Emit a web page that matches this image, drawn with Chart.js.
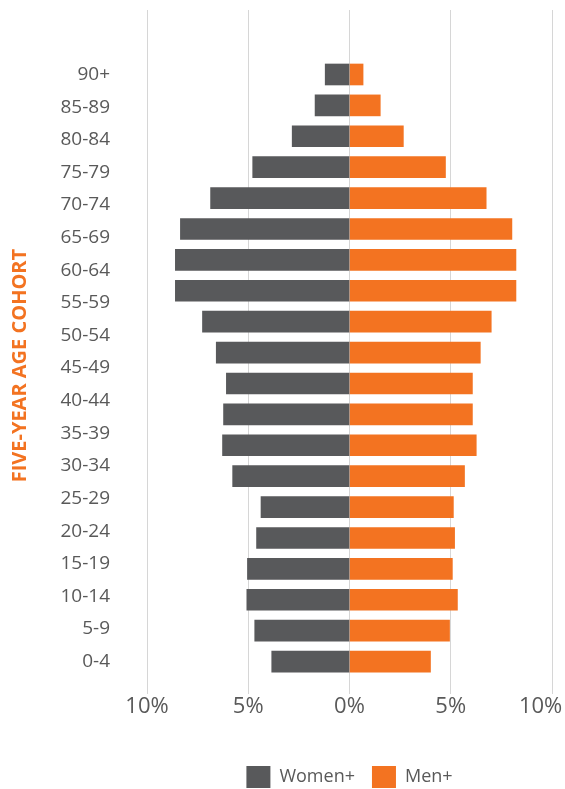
<!DOCTYPE html>
<html>
<head>
<meta charset="utf-8">
<script src="https://cdn.jsdelivr.net/npm/chart.js"></script>
<style>
  html, body { margin: 0; padding: 0; background: #fff; }
  #wrap { width: 565px; height: 789px; }
</style>
</head>
<body>
<div id="wrap"><canvas id="chart"></canvas></div>
<script>
// Age cohort labels, top to bottom
const ageGroups = ['90+', '85-89', '80-84', '75-79', '70-74', '65-69', '60-64', '55-59', '50-54',
  '45-49', '40-44', '35-39', '30-34', '25-29', '20-24', '15-19', '10-14', '5-9', '0-4'];

// Share of population (%), one bar per row, top to bottom
const womenShare = [1.2, 1.7, 2.83, 4.78, 6.86, 8.35, 8.6, 8.6, 7.26, 6.58,
  6.08, 6.22, 6.27, 5.77, 4.37, 4.59, 5.04, 5.07, 4.68, 3.84];
const menShare = [0.67, 1.52, 2.66, 4.74, 6.75, 8.02, 8.22, 8.22, 7.0, 6.46,
  6.07, 6.07, 6.26, 5.68, 5.13, 5.19, 5.08, 5.33, 4.94, 4.0];

const xTicks = [-10, -5, 0, 5, 10];

const grey = '#58595b';
const orange = '#f37321';
const textGrey = '#595959';
const fontFamily = '"Open Sans", "Noto Sans", sans-serif';

// Bars sit on a numeric row index; the 19 labels spread across the 20 rows
const rowCount = womenShare.length;
const labelStep = (rowCount - 1) / (ageGroups.length - 1);

const ctx = document.getElementById('chart').getContext('2d');
new Chart(ctx, {
  type: 'bar',
  data: {
    datasets: [
      {
        label: 'Women+',
        data: womenShare.map((v, i) => ({ x: -v, y: i })),
        backgroundColor: grey
      },
      {
        label: 'Men+',
        data: menShare.map((v, i) => ({ x: v, y: i })),
        backgroundColor: orange
      }
    ]
  },
  options: {
    indexAxis: 'y',
    responsive: true,
    maintainAspectRatio: false,
    animation: false,
    grouped: false,
    barThickness: 21,
    layout: { padding: { top: 10, right: 13, left: 0, bottom: 0 } },
    scales: {
      x: {
        type: 'linear',
        min: -10,
        max: 10,
        afterBuildTicks: (scale) => { scale.ticks = xTicks.map(v => ({ value: v })); },
        afterFit: (scale) => {
          scale.paddingLeft = 0;
          scale.paddingRight = 0;
          scale.height = 59;
        },
        grid: { color: '#d6d6d6', lineWidth: 1, drawTicks: true, tickLength: 4 },
        border: { display: false },
        ticks: {
          color: textGrey,
          font: { family: fontFamily, size: 22 },
          padding: 0,
          // last label padded so it stays inside the canvas
          callback: (v) => Math.abs(v) + '%' + (v === 10 ? '    ' : '')
        }
      },
      y: {
        type: 'linear',
        reverse: true,
        offset: false,
        min: -2.087,
        max: 19.92,
        afterBuildTicks: (scale) => {
          scale.ticks = ageGroups.map((_, j) => ({ value: j * labelStep }));
        },
        afterFit: (scale) => {
          scale.width = 147;
          scale.paddingTop = 0;
          scale.paddingBottom = 0;
        },
        grid: { display: false, drawTicks: false },
        border: { display: false },
        ticks: {
          color: textGrey,
          font: { family: fontFamily, size: 19 },
          padding: 37,
          callback: (v, i) => ageGroups[i]
        },
        title: {
          display: true,
          text: 'FIVE-YEAR AGE COHORT      ',
          color: orange,
          font: { family: fontFamily, size: 20, weight: 'bold' },
          padding: { top: 8, bottom: 0 }
        }
      }
    },
    plugins: {
      legend: {
        position: 'bottom',
        fullSize: false,
        maxHeight: 40,
        labels: {
          boxWidth: 24,
          boxHeight: 22,
          padding: 17,
          color: textGrey,
          font: { family: fontFamily, size: 18 }
        }
      },
      tooltip: { enabled: false }
    }
  }
});
</script>
</body>
</html>
